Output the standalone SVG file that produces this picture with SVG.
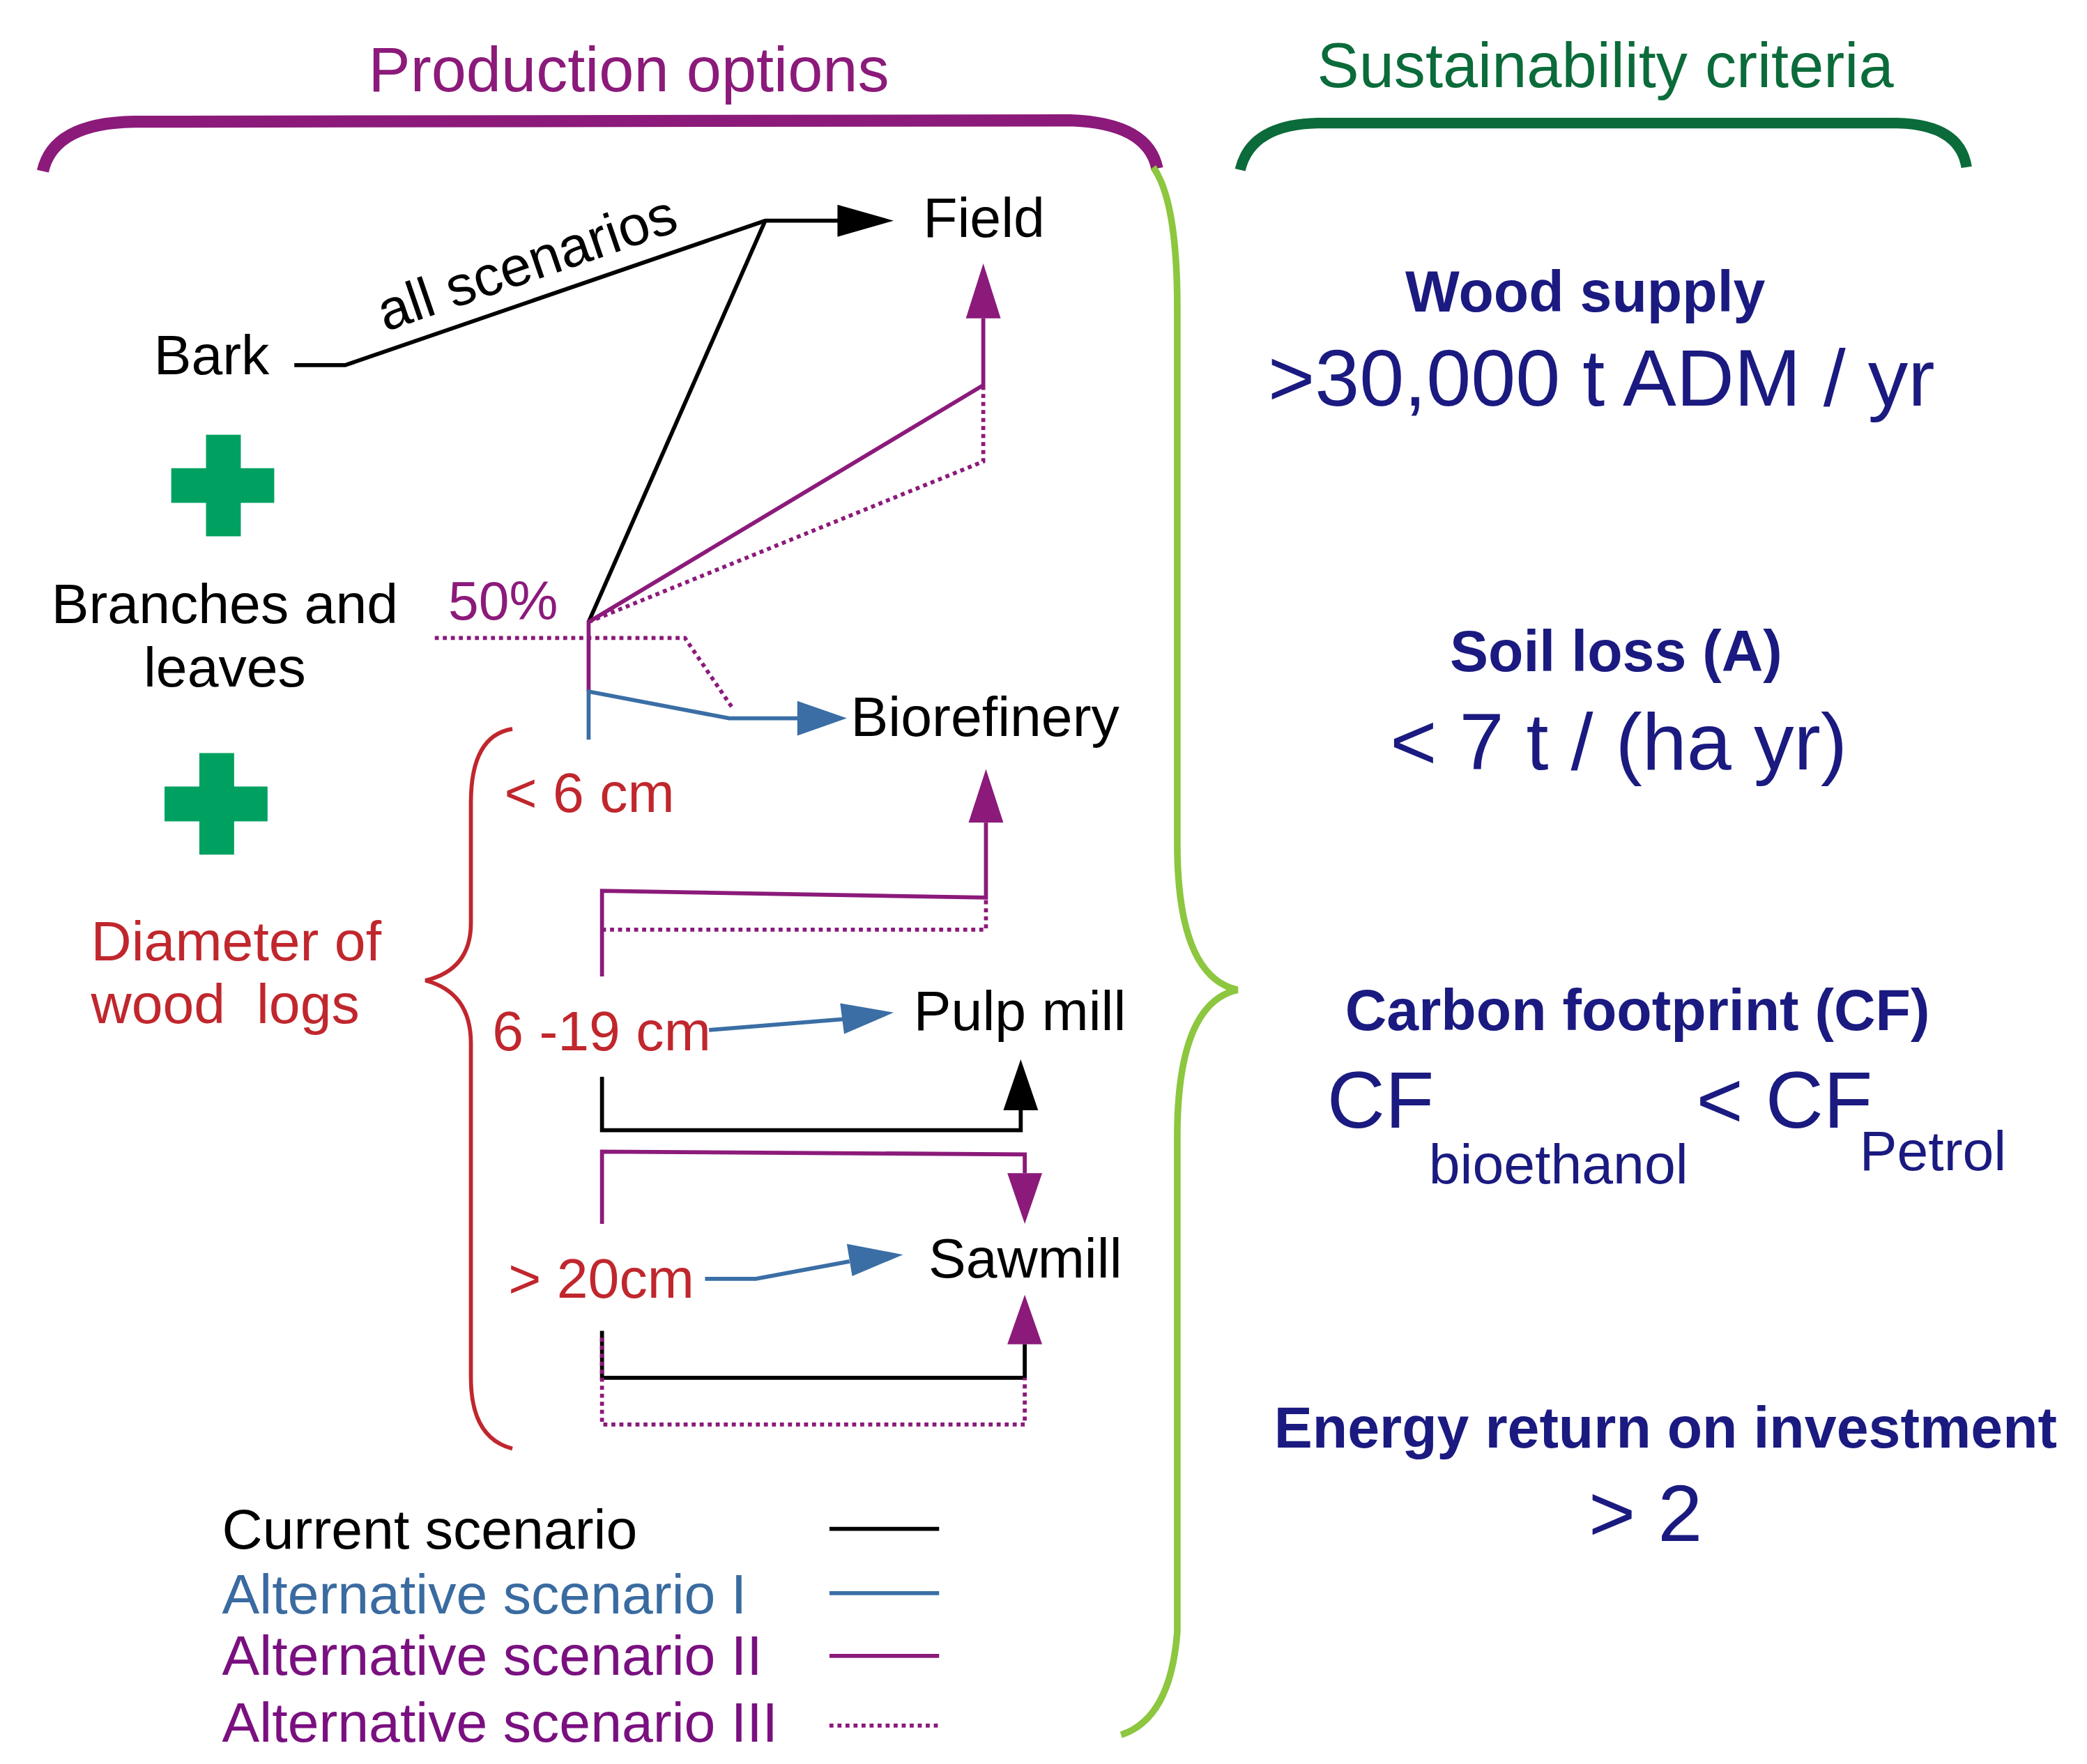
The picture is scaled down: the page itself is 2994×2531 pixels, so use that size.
<svg xmlns="http://www.w3.org/2000/svg" width="2994" height="2531" viewBox="0 0 2994 2531">
<defs>
<style>
text{font-family:"Liberation Sans",Arial,sans-serif}
.t{font-size:42px;fill:#000}
.r{font-size:42px;fill:#C0272D}
.nb{font-size:43px;fill:#1A1A80;font-weight:bold;text-anchor:middle}
.nl{font-size:60px;fill:#1A1A80}
.k{stroke:#000;stroke-width:3;fill:none}
.p{stroke:#8B1A7A;stroke-width:3;fill:none}
.pd{stroke:#8B1A7A;stroke-width:3;fill:none;stroke-dasharray:3 3}
.b{stroke:#3A6EA5;stroke-width:3;fill:none}
</style>
</defs>
<g transform="scale(1.9192)">
<g id="headers">
<text x="470" y="68" style="font-size:47px;fill:#8B1A7A;text-anchor:middle">Production options</text>
<path d="M32,128 Q40,92 100,91 L800,90 Q858,92 865,126" fill="none" stroke="#8B1A7A" stroke-width="9"/>
<text x="1200" y="65" style="font-size:47px;fill:#0B6B3A;text-anchor:middle">Sustainability criteria</text>
<path d="M927,127 Q935,93 985,92 L1418,92 Q1465,93 1470,125" fill="none" stroke="#0B6B3A" stroke-width="8"/>
<path d="M862,125 Q880,150 880,230 L880,630 Q880,730 925,740 Q880,750 880,850 L880,1220 Q875,1285 838,1297" fill="none" stroke="#8DC63F" stroke-width="5"/>
</g>
<g id="sources">
<text x="115" y="280" class="t">Bark</text>
<text x="168" y="466" class="t" text-anchor="middle">Branches and</text>
<text x="168" y="513" class="t" text-anchor="middle">leaves</text>
<path d="M128,350h77v26h-77zM154,325h26v76h-26z" fill="#00A160"/>
<path d="M123,588h77v26h-77zM149,563h26v76h-26z" fill="#00A160"/>
<text x="68" y="718" class="r">Diameter of</text>
<text x="68" y="765" class="r" xml:space="preserve">wood  logs</text>
<path d="M383,545 Q352,550 352,600 L352,690 Q352,725 318,733 Q352,742 352,780 L352,1030 Q352,1075 383,1083" fill="none" stroke="#C0272D" stroke-width="3"/>
<text x="377" y="607" class="r">&lt; 6 cm</text>
<text x="368" y="785" class="r">6 -19 cm</text>
<text x="380" y="970" class="r">&gt; 20cm</text>
<text x="335" y="463" style="font-size:41px;fill:#8B1A7A">50%</text>
</g>
<g id="targets">
<text x="690" y="177" class="t">Field</text>
<text x="636" y="550" class="t">Biorefinery</text>
<text x="683" y="770" class="t">Pulp mill</text>
<text x="694" y="955" class="t">Sawmill</text>
</g>
<g id="connectors">
<path d="M220,273H258L572,165H630" class="k"/>
<path d="M626,153L668,165L626,177z" fill="#000"/>
<text transform="translate(288,248) rotate(-19)" style="font-size:42px">all scenarios</text>
<path d="M440,465L572,165" class="k"/>
<path d="M440,517V465L735,288V238" class="p"/>
<path d="M722,238L735,197L748,238z" fill="#8B1A7A"/>
<path d="M440,465L735,345V288" class="pd"/>
<path d="M325,477H512L548,530" class="pd"/>
<path d="M440,553V517L545,537H600" class="b"/>
<path d="M596,524L633,537L596,550z" fill="#3A6EA5"/>
<path d="M450,730V666L737,671V615" class="p"/>
<path d="M724,615L737,575L750,615z" fill="#8B1A7A"/>
<path d="M450,695H737V671" class="pd"/>
<path d="M530,770L630,762" class="b"/>
<path d="M628,750L668,757L631,773z" fill="#3A6EA5"/>
<path d="M450,805V845H763V830" class="k"/>
<path d="M750,830L763,792L776,830z" fill="#000"/>
<path d="M450,915V861L766,863V877" class="p"/>
<path d="M753,877L766,915L779,877z" fill="#8B1A7A"/>
<path d="M527,956H565L635,943" class="b"/>
<path d="M633,930L675,938L637,954z" fill="#3A6EA5"/>
<path d="M450,995V1030H766V1005" class="k"/>
<path d="M450,1000V1065H766V1030" class="pd"/>
<path d="M753,1005L766,968L779,1005z" fill="#8B1A7A"/>
</g>
<g id="legend">
<text x="166" y="1158" class="t">Current scenario</text>
<text x="166" y="1206" style="font-size:42px;fill:#3A6BA0">Alternative scenario I</text>
<text x="166" y="1252" style="font-size:42px;fill:#7A1080">Alternative scenario II</text>
<text x="166" y="1302" style="font-size:42px;fill:#7A1080">Alternative scenario III</text>
<path d="M620,1143H702" class="k"/>
<path d="M620,1191H702" class="b"/>
<path d="M620,1238H702" class="p"/>
<path d="M620,1290H702" class="pd"/>
</g>
<g id="criteria">
<text x="1185" y="233" class="nb">Wood supply</text>
<text x="1197" y="303" class="nl" text-anchor="middle">&gt;30,000 t ADM / yr</text>
<text x="1208" y="502" class="nb">Soil loss (A)</text>
<text x="1210" y="575" class="nl" text-anchor="middle">&lt; 7 t / (ha yr)</text>
<text x="1224" y="770" class="nb">Carbon footprint (CF)</text>
<text x="992" y="843" class="nl">CF</text>
<text x="1068" y="885" style="font-size:42px;fill:#1A1A80">bioethanol</text>
<text x="1268" y="843" class="nl">&lt; CF</text>
<text x="1390" y="875" style="font-size:42px;fill:#1A1A80">Petrol</text>
<text x="1245" y="1082" class="nb">Energy return on investment</text>
<text x="1230" y="1152" class="nl" text-anchor="middle">&gt; 2</text>
</g>
</g>
</svg>
